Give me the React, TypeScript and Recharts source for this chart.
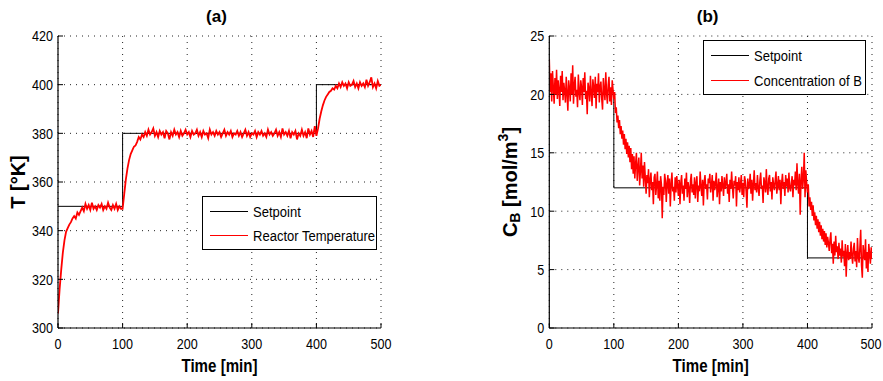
import React from 'react';
import { LineChart, Line, XAxis, YAxis, CartesianGrid, Legend, Label } from 'recharts';

// ---------- data ----------
const TEMP_STEP = 2.5; // sampling interval of the temperature record [min]
const CONC_STEP = 1.25; // sampling interval of the concentration record [min]
const timeTicks = [0, 100, 200, 300, 400, 500];
const tempTicks = [300, 320, 340, 360, 380, 400, 420];
const concTicks = [0, 5, 10, 15, 20, 25];

const setpointTimes = [0, 100, 400, 500];
const setpointTemp = [350, 380, 400, 400];
const setpointConc = [20, 12, 6, 6];

const reactorTemp = [
  306, 316, 324, 331, 336, 339.5, 341, 342.5, 343.5, 345,
  346, 345, 347.5, 346.5, 348, 349.5, 348, 351, 349, 350.5,
  348.5, 351.5, 349, 350, 348.5, 350.5, 349.5, 351, 348.5, 350,
  349, 351.5, 349.5, 348.5, 350.5, 349, 351, 348.5, 350, 349,
  349, 355, 361, 365.5, 369, 371.5, 373, 374.5, 375, 376.5,
  378.5, 377.5, 379.5, 378.5, 380.5, 379, 381.5, 379.5, 380.5, 382,
  379, 380.5, 378.5, 381, 379.5, 380.5, 378, 381, 380, 377.5,
  380.5, 379, 381.5, 379.5, 380.5, 378.5, 381, 379, 380, 381.5,
  379.5, 380.5, 378.5, 381, 379.5, 380, 381.5, 379, 380.5, 378.5,
  381, 379.5, 380, 378, 381.5, 379.5, 380.5, 379, 381, 379.5,
  380.5, 378.5, 380, 381.5, 379, 380.5, 379.5, 381, 378.5, 380,
  379.5, 381, 379, 380.5, 378.5, 380, 381.5, 379, 380.5, 378.5,
  380, 379.5, 381, 378.5, 380.5, 379.5, 381, 379, 380, 378.5,
  381.5, 379.5, 380.5, 379, 380, 381.5, 379, 380.5, 378.5, 382,
  379.5, 380.5, 379, 381, 378, 380.5, 379.5, 381, 377.5, 380,
  379, 381.5, 379, 380.5, 378, 382, 379.5, 381, 378.5, 383,
  379, 382, 386, 389, 391.5, 393.5, 395, 396, 397, 397.5,
  398.5, 398, 399.5, 398.5, 400.5, 399, 401, 399.5, 400.5, 398.5,
  401, 399.5, 400, 401.5, 399, 400.5, 398.5, 401, 399.5, 400.5,
  399, 402, 399.5, 401, 403, 399, 400.5, 398.5, 401.5, 399.5,
  400,
];

const concB = [
  23, 20.2, 21.8, 19.4, 22, 20.6, 19.2, 21.4, 20, 22.1, 19.6, 21.2, 20.4, 19, 21.6, 20.2, 22, 19.5, 21, 20.3,
  19.3, 21.5, 20.1, 18.6, 21.2, 20.5, 19.4, 21.8, 20, 22.5, 19.2, 20.8, 21.5, 19.8, 20.4, 18.9, 21.7, 20.2, 19.5, 21.2,
  20.6, 19.1, 21.4, 20.2, 21.9, 19.6, 20.3, 18.3, 21, 20.5, 19.4, 21.6, 20.1, 19, 21.3, 20.6, 19.7, 21.5, 18.8, 20.9,
  20.2, 21.8, 19.3, 20.7, 21.1, 19.6, 18.7, 21.4, 20.3, 19.5, 21.9, 20.1, 19.2, 20.8, 21.5, 19.4, 20.6, 19.1, 21.2, 20.4,
  19.6, 20.2, 18.4, 18.9, 17.6, 18.2, 17.1, 17.8, 16.6, 17.3, 16.2, 16.9, 15.7, 16.6, 15.3, 16.2, 14.9, 15.9, 14.6, 15.6,
  14.2, 15.4, 13.6, 14.9, 13.2, 14.7, 12.8, 14.1, 15, 12.6, 13.8, 14.6, 12.2, 13.5, 15, 12.8, 13.9, 12.1, 14.2, 12.9,
  11.5, 13.1, 12.4, 13.6, 11.2, 12.7, 13.3, 11.8, 12.5, 10.6, 12.9, 13.2, 11.4, 12.2, 13.4, 11.1, 12.6, 10.9, 13, 12.3,
  9.4, 12.1, 11.4, 13.2, 12.6, 10.8, 12.4, 13.1, 11.5, 12.8, 10.4, 12.3, 13.3, 11.7, 12.1, 10.9, 12.9, 11.6, 13, 12.2,
  11.3, 12.7, 10.6, 12.4, 13.1, 11.5, 12.2, 10.9, 12.8, 11.9, 13.3, 11.2, 12.5, 12, 10.7, 12.6, 13.2, 11.6, 12.3, 11.4,
  12.9, 11.1, 12.4, 13, 10.8, 12.2, 11.7, 13.4, 12.1, 11.3, 12.7, 10.5, 12.5, 13.1, 11.9, 12.3, 11, 12.8, 12.4, 13.2,
  11.6, 12.2, 13.1, 10.9, 12.6, 11.8, 12.4, 13.3, 11.2, 12, 12.8, 10.6, 12.5, 11.7, 13, 12.2, 11.3, 12.9, 11.9, 12.4,
  13.2, 11.5, 12.3, 10.8, 12.7, 11.9, 13.4, 12.1, 11.1, 12.6, 12.2, 13, 10.4, 12.5, 11.8, 12.9, 11.6, 12.3, 13.1, 11.4,
  12.4, 11.2, 13, 12.6, 11.7, 10.3, 12.8, 11.9, 12.2, 13.2, 11.5, 12.7, 10.9, 12.3, 13.5, 11.8, 12.4, 11.6, 13.1, 12,
  11.3, 12.6, 13.3, 11.9, 12.2, 10.7, 12.9, 12.4, 11.6, 13.6, 12, 11.4, 12.8, 13.1, 11.7, 12.5, 11, 12.9, 12.3, 11.8,
  12.6, 13.4, 11.5, 12.2, 13, 11.8, 12.7, 10.6, 12.4, 13.2, 11.9, 12.5, 11.3, 13.1, 12.1, 12.8, 11.6, 13.3, 12, 11.7,
  12.4, 13, 11.2, 12.7, 12.2, 13.4, 11.8, 14.1, 12.3, 11.5, 13.2, 9.7, 12.6, 13.8, 11.9, 12.8, 15, 11.2, 13.5, 12.4,
  11.6, 12.3, 10.4, 11.2, 10.1, 10.8, 9.6, 10.5, 9.2, 9.9, 8.8, 9.6, 8.5, 9.3, 8.2, 9.1, 7.9, 8.8, 7.6, 8.5,
  7.4, 8.3, 7.1, 8.1, 6.9, 7.8, 7.3, 6.6, 7.6, 8.2, 6.4, 7.2, 5.5, 7.4, 6.2, 7.9, 6.5, 7, 5.9, 7.3,
  6.2, 6.8, 5.6, 7.5, 6.1, 6.6, 5.3, 7.2, 4.4, 6.4, 7.1, 5.8, 6.5, 5.9, 7.4, 6.2, 5.5, 6.8, 7.3, 5.7,
  6.6, 5.2, 7.7, 6.1, 5.6, 6.9, 8.4, 5.4, 4.3, 7.1, 6.3, 5.8, 7.6, 5.1, 6.5, 4.8, 7.2, 6.4, 5.5, 6.9,
  5.9,
];

const tempRows = reactorTemp.map((v, i) => ({ t: i * TEMP_STEP, v }));
const concRows = concB.map((v, i) => ({ t: i * CONC_STEP, v }));
const spTempRows = setpointTimes.map((t, i) => ({ t, v: setpointTemp[i] }));
const spConcRows = setpointTimes.map((t, i) => ({ t, v: setpointConc[i] }));

// ---------- styling ----------
const SANS = "'Liberation Sans',Arial,sans-serif";
const SX = 0.84; // horizontal condensing of the narrow MATLAB-style font
const RED = '#ff0000';

function XTick(props: any) {
  const { x, y, payload } = props;
  return (
    <text x={0} y={0} transform={`translate(${x},${y}) scale(${SX},1)`} textAnchor="middle" dy="0.71em" fontFamily={SANS} fontSize={15} fill="#000">
      {payload.value}
    </text>
  );
}

function YTick(props: any) {
  const { x, y, payload } = props;
  return (
    <text x={0} y={0} transform={`translate(${x},${y}) scale(${SX},1)`} textAnchor="end" dy="0.355em" fontFamily={SANS} fontSize={15} fill="#000">
      {payload.value}
    </text>
  );
}

function LegendBox(props: { w: number; h: number; items: { label: string; color: string; y: number }[] }) {
  return (
    <div
      style={{
        width: props.w,
        height: props.h,
        border: '1.5px solid #000',
        boxSizing: 'border-box',
        background: '#fff',
        position: 'relative',
        fontFamily: SANS,
        fontSize: 15.5,
        color: '#000',
      }}
    >
      {props.items.map((it) => (
        <div key={it.label} style={{ position: 'absolute', left: 7, top: it.y - 10, height: 20, display: 'flex', alignItems: 'center', whiteSpace: 'nowrap' }}>
          <span style={{ display: 'inline-block', width: 38, borderTop: `1.2px solid ${it.color}` }} />
          <span style={{ marginLeft: 5, display: 'inline-block', transform: `scaleX(${SX})`, transformOrigin: 'left center' }}>{it.label}</span>
        </div>
      ))}
    </div>
  );
}

function Panel(props: {
  title: string;
  rows: { t: number; v: number }[];
  spRows: { t: number; v: number }[];
  yDomain: [number, number];
  yTicks: number[];
  width: number;
  yAxisWidth: number;
  marginRight: number;
  yLabel: React.ReactNode;
  legendPos: { left: number; top: number; w: number; h: number };
  legendItems: { label: string; color: string; y: number }[];
  lineWidth: number;
}) {
  const { width, yAxisWidth, marginRight } = props;
  const plotCenter = yAxisWidth + (width - yAxisWidth - marginRight) / 2;
  return (
    <LineChart width={width} height={381} margin={{ top: 36, right: marginRight, bottom: 23, left: 0 }}>
      <CartesianGrid xAxisId="b" yAxisId="l" stroke="#222" strokeDasharray="1 5" strokeWidth={1} />
      <XAxis
        xAxisId="b"
        type="number"
        dataKey="t"
        domain={[0, 500]}
        ticks={timeTicks}
        allowDataOverflow
        height={30}
        axisLine={{ stroke: '#000', strokeWidth: 1.2 }}
        tickLine={{ stroke: '#000' }}
        tickSize={-5}
        tickMargin={15}
        tick={<XTick />}
      >
        <Label
          content={() => (
            <g>
              <text x={0} y={0} transform={`translate(${plotCenter},372) scale(${SX},1)`} textAnchor="middle" fontFamily={SANS} fontWeight="bold" fontSize={18} fill="#000">
                Time [min]
              </text>
              <text x={plotCenter - 3} y={22} textAnchor="middle" fontFamily={SANS} fontWeight="bold" fontSize={17} fill="#000">
                {props.title}
              </text>
            </g>
          )}
        />
      </XAxis>
      <XAxis
        xAxisId="t"
        orientation="top"
        type="number"
        domain={[0, 500]}
        ticks={timeTicks}
        height={0}
        axisLine={{ stroke: '#000', strokeWidth: 1.2 }}
        tickLine={false}
        tick={false}
      />
      <YAxis
        yAxisId="l"
        type="number"
        domain={props.yDomain}
        ticks={props.yTicks}
        allowDataOverflow
        width={yAxisWidth}
        axisLine={{ stroke: '#000', strokeWidth: 1.2 }}
        tickLine={{ stroke: '#000' }}
        tickSize={-5}
        tickMargin={10}
        tick={<YTick />}
      >
        <Label content={() => props.yLabel} />
      </YAxis>
      <YAxis
        yAxisId="r"
        orientation="right"
        type="number"
        domain={props.yDomain}
        ticks={props.yTicks}
        width={0}
        axisLine={{ stroke: '#000', strokeWidth: 1.2 }}
        tickLine={false}
        tick={false}
      />
      <Legend
        layout="horizontal"
        verticalAlign="middle"
        align="center"
        wrapperStyle={{ left: props.legendPos.left, top: props.legendPos.top, width: props.legendPos.w, height: props.legendPos.h }}
        content={() => <LegendBox w={props.legendPos.w} h={props.legendPos.h} items={props.legendItems} />}
      />
      <Line
        xAxisId="b"
        yAxisId="l"
        data={props.spRows}
        dataKey="v"
        type="stepAfter"
        stroke="#000"
        strokeWidth={1}
        dot={false}
        isAnimationActive={false}
      />
      <Line
        xAxisId="b"
        yAxisId="l"
        data={props.rows}
        dataKey="v"
        type="linear"
        stroke={RED}
        strokeWidth={props.lineWidth}
        strokeLinejoin="miter"
        dot={false}
        isAnimationActive={false}
      />
    </LineChart>
  );
}

export default function App() {
  const leftYLabel = (
    <text x={18} y={182} transform="rotate(-90 18 182)" textAnchor="middle" dominantBaseline="central" fontFamily={SANS} fontWeight="bold" fontSize={20} fill="#000">
      T [°K]
    </text>
  );
  const rightYLabel = (
    <text x={70} y={182} transform="rotate(-90 70 182)" textAnchor="middle" dominantBaseline="central" fontFamily={SANS} fontWeight="bold" fontSize={20} fill="#000">
      C<tspan fontSize={14} dy={5}>B</tspan>
      <tspan dy={-5}> [mol/m</tspan>
      <tspan fontSize={14} dy={-7}>3</tspan>
      <tspan dy={7}>]</tspan>
    </text>
  );
  return (
    <div style={{ position: 'absolute', left: 0, top: 0, width: 883, height: 381, background: '#fff', overflow: 'hidden' }}>
      <div style={{ position: 'absolute', left: 0, top: 0 }}>
        <Panel
          title="(a)"
          rows={tempRows}
          spRows={spTempRows}
          yDomain={[300, 420]}
          yTicks={tempTicks}
          width={440}
          yAxisWidth={58}
          marginRight={59}
          yLabel={leftYLabel}
          lineWidth={1.8}
          legendPos={{ left: 201.7, top: 195.7, w: 175, h: 54.5 }}
          legendItems={[
            { label: 'Setpoint', color: '#000', y: 15.3 },
            { label: 'Reactor Temperature', color: RED, y: 39.3 },
          ]}
        />
      </div>
      <div style={{ position: 'absolute', left: 440, top: 0 }}>
        <Panel
          title="(b)"
          rows={concRows}
          spRows={spConcRows}
          yDomain={[0, 25]}
          yTicks={concTicks}
          width={443}
          yAxisWidth={109.3}
          marginRight={11}
          yLabel={rightYLabel}
          lineWidth={1.5}
          legendPos={{ left: 263.3, top: 39.7, w: 162.4, h: 55 }}
          legendItems={[
            { label: 'Setpoint', color: '#000', y: 15.3 },
            { label: 'Concentration of B', color: RED, y: 40.3 },
          ]}
        />
      </div>
    </div>
  );
}
